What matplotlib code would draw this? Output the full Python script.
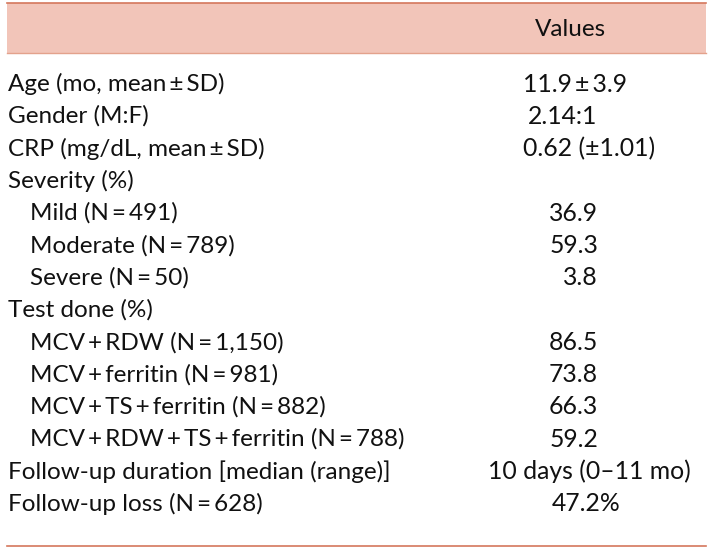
import matplotlib
matplotlib.use("Agg")
import matplotlib.pyplot as plt

# table content
header = "Values"
labels = [
    "Age (mo, mean\u2009\u00b1\u2009SD)",
    "Gender (M:F)",
    "CRP (mg/dL, mean\u2009\u00b1\u2009SD)",
    "Severity (%)",
    "Mild (N\u2009=\u2009491)",
    "Moderate (N\u2009=\u2009789)",
    "Severe (N\u2009=\u200950)",
    "Test done (%)",
    "MCV\u2009+\u2009RDW (N\u2009=\u20091,150)",
    "MCV\u2009+\u2009ferritin (N\u2009=\u2009981)",
    "MCV\u2009+\u2009TS\u2009+\u2009ferritin (N\u2009=\u2009882)",
    "MCV\u2009+\u2009RDW\u2009+\u2009TS\u2009+\u2009ferritin (N\u2009=\u2009788)",
    "Follow-up duration [median (range)]",
    "Follow-up loss (N\u2009=\u2009628)",
]
values = [
    "11.9\u2009\u00b1\u20093.9",
    "2.14:1",
    "0.62 (\u00b11.01)",
    "",
    "36.9",
    "59.3",
    "3.8",
    "",
    "86.5",
    "73.8",
    "66.3",
    "59.2",
    "10 days (0\u201311 mo)",
    "47.2%",
]
indented = [False, False, False, False, True, True, True, False,
            True, True, True, True, False, False]

# how each value sits in its column
val_x = [523, 528, 523, 0, 598, 598, 598, 0, 598, 598, 598, 598, 488, 552]
val_ha = ["left", "left", "left", "left", "right", "right", "right", "left",
          "right", "right", "right", "right", "left", "left"]

W, H = 713, 549
fig = plt.figure(figsize=(W / 100, H / 100), dpi=100)
ax = fig.add_axes([0, 0, 1, 1])
ax.set_xlim(0, W)
ax.set_ylim(H, 0)
ax.axis("off")

font = ["Lato", "DejaVu Sans"]
fs = 17.5
vfs = 17.8

# header band
ax.fill_between([7, 706], 3, 53, color="#F2C5B9", lw=0)
ax.plot([7, 706], [3, 3], color="#D4775C", lw=1.2)
ax.plot([7, 706], [53, 53], color="#E3A28C", lw=1)
ax.text(570, 29, header, fontsize=fs, family=font, ha="center", va="center", color="#111111")

y0, dy = 84, 32.3
for i, (lab, val) in enumerate(zip(labels, values)):
    y = y0 + i * dy
    x = 30 if indented[i] else 8
    ax.text(x, y, lab, fontsize=fs, family=font, ha="left", va="center", color="#111111")
    if val:
        ax.text(val_x[i], y, val, fontsize=vfs, family=font, ha=val_ha[i], va="center", color="#111111")

ax.plot([7, 706], [546, 546], color="#D4775C", lw=1.2)

fig.savefig("out.png", dpi=100)
